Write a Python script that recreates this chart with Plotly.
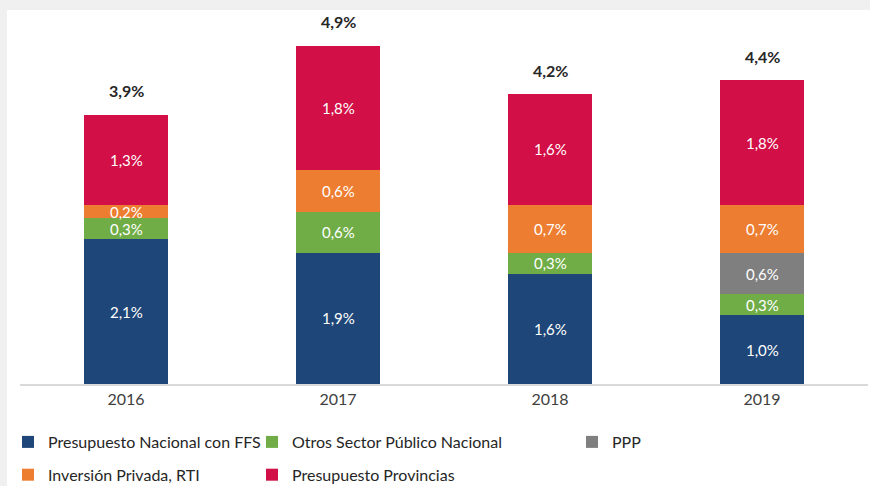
import plotly.graph_objects as go

years = ["2016", "2017", "2018", "2019"]
pn_ffs = [2.1, 1.9, 1.6, 1.0]
otros_spn = [0.3, 0.6, 0.3, 0.3]
ppp = [0.0, 0.0, 0.0, 0.6]
inv_priv = [0.2, 0.6, 0.7, 0.7]
prov = [1.3, 1.8, 1.6, 1.8]
totals = [3.9, 4.9, 4.2, 4.4]

series = [
    ("Presupuesto Nacional con FFS", pn_ffs, "#1f4678", "legend"),
    ("Otros Sector Público Nacional", otros_spn, "#70ad47", "legend2"),
    ("PPP", ppp, "#7f7f7f", "legend3"),
    ("Inversión Privada, RTI", inv_priv, "#ed7d31", "legend"),
    ("Presupuesto Provincias", prov, "#d20f46", "legend2"),
]

FONT = "Lato"
fig = go.Figure()
annotations = []
base = [0.0] * len(years)
for i, (name, vals, color, lg) in enumerate(series):
    fig.add_trace(go.Bar(
        x=years, y=vals, name=name, marker_color=color,
        marker_line_width=0, legend=lg, legendgroup=name,
    ))
    for j, v in enumerate(vals):
        if v > 0:
            annotations.append(dict(
                x=j, y=base[j] + v / 2, text=f"{v:.1f}%".replace(".", ","),
                showarrow=False, font=dict(family=FONT, size=15, color="white"),
                xref="x", yref="y",
            ))
        base[j] += v

for j, t in enumerate(totals):
    annotations.append(dict(
        x=j, y=t, text=f"<b>{t:.1f}%</b>".replace(".", ","),
        showarrow=False, yshift=24,
        font=dict(family=FONT, size=16, color="#262626"),
        xref="x", yref="y",
    ))

L, R, T, B = 20, 2, 10, 102
W, H = 870, 486
pw, ph = W - L - R, H - T - B

def px_x(px):
    return (px - L) / pw

def px_y(py):
    return (H - B - py) / ph

legend_common = dict(
    orientation="v", xanchor="left", yanchor="top",
    bgcolor="rgba(0,0,0,0)", font=dict(family=FONT, size=16, color="#262626"),
    tracegroupgap=9, itemwidth=30,
)

fig.update_layout(
    width=W, height=H,
    margin=dict(l=L, r=R, t=T, b=B, autoexpand=False),
    paper_bgcolor="white", plot_bgcolor="white",
    barmode="stack", bargap=0.6,
    font=dict(family=FONT, color="#404040"),
    annotations=annotations,
    legend=dict(x=px_x(8), y=px_y(425), **legend_common),
    legend2=dict(x=px_x(252), y=px_y(425), **legend_common),
    legend3=dict(x=px_x(572), y=px_y(425), **legend_common),
    xaxis=dict(
        type="category", range=[-0.5, len(years) - 0.5], autorange=False,
        showline=True, linecolor="#d9d9d9", linewidth=2,
        tickfont=dict(family=FONT, size=16, color="#404040"),
        ticks="", showgrid=False,
    ),
    yaxis=dict(range=[0, ph / 69.0], autorange=False, visible=False, showgrid=False),
    shapes=[
        dict(type="rect", xref="paper", yref="paper",
             x0=px_x(0), x1=px_x(W), y0=px_y(0), y1=px_y(10),
             fillcolor="#f0f0f0", line_width=0, layer="below"),
        dict(type="rect", xref="paper", yref="paper",
             x0=px_x(0), x1=px_x(7), y0=px_y(0), y1=px_y(H),
             fillcolor="#f0f0f0", line_width=0, layer="below"),
    ],
)

fig.write_html("out.html", config={"displayModeBar": False},
               post_script="document.body.style.margin='0';")
